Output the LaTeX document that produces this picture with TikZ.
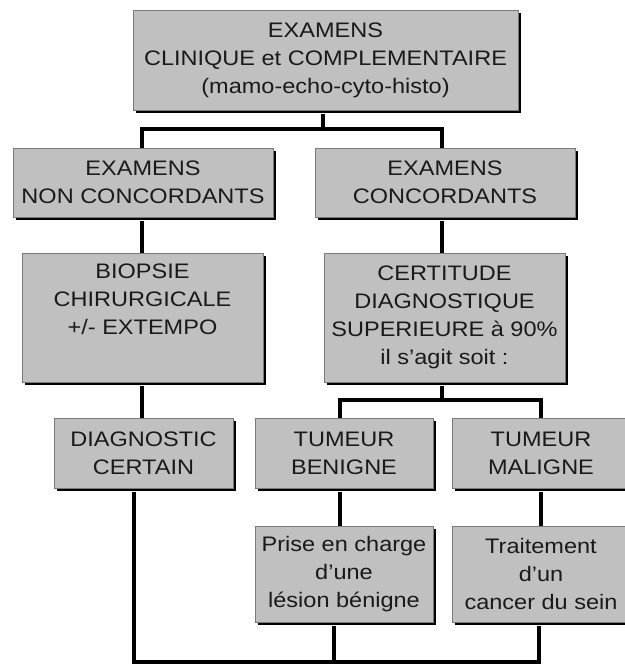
\documentclass[tikz,border=0pt]{standalone}
\usepackage{fontspec}
\setmainfont{Liberation Sans}[FakeStretch=1.12]
\usetikzlibrary{shadows}
\definecolor{boxfill}{HTML}{C0C0C0}
\definecolor{boxedge}{HTML}{7A7A7A}
\definecolor{txt}{HTML}{1A1A1A}
\begin{document}
\begin{tikzpicture}[x=1pt,y=-1pt,
  box/.style={draw=boxedge, line width=1pt, fill=boxfill, inner sep=0pt,
    align=center, text=txt, font=\fontsize{21}{28}\selectfont,
    drop shadow={opacity=1, fill=black, shadow xshift=3pt, shadow yshift=-3pt}},
  conn/.style={draw=black, line width=3.5pt, line join=miter}]
\useasboundingbox[fill=white] (0,0) rectangle (624,664);

\node[box, minimum width=385pt, minimum height=100pt] (top) at (325.5,60)
  {EXAMENS\\CLINIQUE et COMPLEMENTAIRE\\(mamo-echo-cyto-histo)};
\node[box, minimum width=260pt, minimum height=69pt] (nc) at (143,182.5)
  {EXAMENS\\NON CONCORDANTS};
\node[box, minimum width=260pt, minimum height=69pt] (c) at (445,182.5)
  {EXAMENS\\CONCORDANTS};
\node[box, minimum width=241pt, minimum height=129pt] (bio) at (142.5,317.5)
  {BIOPSIE\\CHIRURGICALE\\+/- EXTEMPO\\\strut};
\node[box, minimum width=241pt, minimum height=129pt] (cert) at (444.5,317.5)
  {CERTITUDE\\DIAGNOSTIQUE\\SUPERIEURE à 90\%\\il s'agit soit :};
\node[box, minimum width=179pt, minimum height=70pt] (diag) at (143.5,453)
  {DIAGNOSTIC\\CERTAIN};
\node[box, minimum width=178pt, minimum height=70pt] (ben) at (344,453)
  {TUMEUR\\BENIGNE};
\node[box, minimum width=178pt, minimum height=70pt] (mal) at (541,453)
  {TUMEUR\\MALIGNE};
\node[box, minimum width=178pt, minimum height=96pt] (prise) at (344,574)
  {Prise en charge\\d'une\\lésion bénigne};
\node[box, minimum width=178pt, minimum height=96pt] (trait) at (541,574)
  {Traitement\\d'un\\cancer du sein};

% first split
\coordinate (j1) at (323,129);
\draw[conn] ([xshift=-2.5pt,yshift=-3pt]top.south) -- ([xshift=-2.5pt]top.south |- j1);
\draw[conn] ([xshift=-1pt]nc.north) |- (j1) -| ([xshift=-3pt]c.north);
% verticals
\draw[conn] ([xshift=-1pt,yshift=-3pt]nc.south) -- ([xshift=-0.5pt]bio.north);
\draw[conn] ([xshift=-3pt,yshift=-3pt]c.south) -- ([xshift=-2.5pt]cert.north);
\draw[conn] ([xshift=-0.5pt,yshift=-3pt]bio.south) -- ([xshift=-1.5pt]diag.north);
% second split
\coordinate (j2) at (442,400);
\draw[conn] ([xshift=-2.5pt,yshift=-3pt]cert.south) -- ([xshift=-2.5pt]cert.south |- j2);
\draw[conn] ([xshift=-4pt]ben.north) |- (j2) -| (mal.north);
\draw[conn] ([xshift=-4pt,yshift=-3pt]ben.south) -- ([xshift=-4pt]prise.north);
\draw[conn] ([yshift=-3pt]mal.south) -- (trait.north);
% bottom join
\coordinate (b) at (0,662);
\draw[conn] ([xshift=-9.5pt,yshift=-3pt]diag.south) -- ([xshift=-9.5pt]diag.south |- b)
  -- ([xshift=-2pt]trait.south |- b) -- ([xshift=-2pt,yshift=-3pt]trait.south);
\draw[conn] ([xshift=-10pt,yshift=-3pt]prise.south) -- ([xshift=-10pt]prise.south |- b);
\end{tikzpicture}
\end{document}
